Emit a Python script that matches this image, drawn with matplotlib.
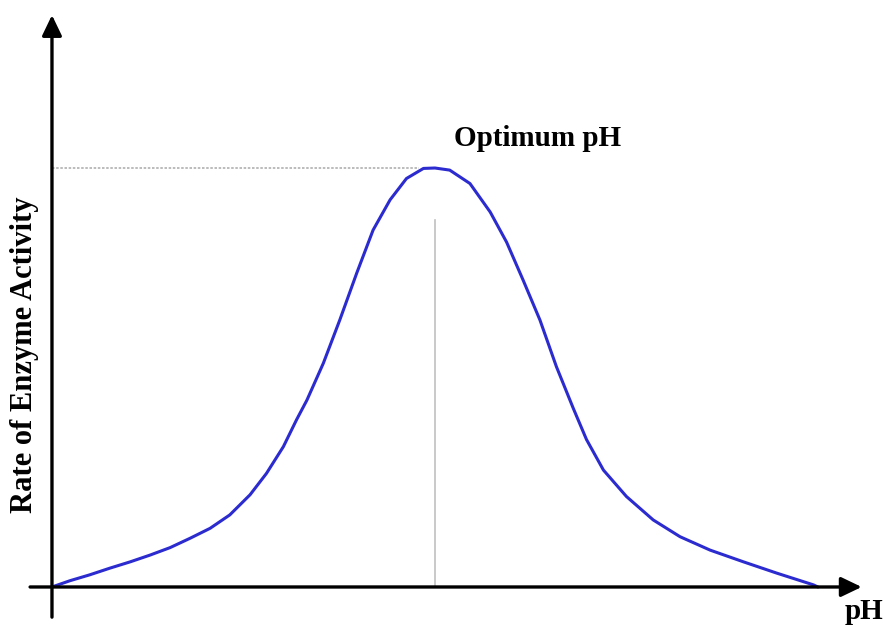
import matplotlib.pyplot as plt

# pH values and rate of enzyme activity (% of maximum)
ph = [0, 0.33, 0.69, 1.06, 1.43, 1.79, 2.16, 2.52, 2.89, 3.25, 3.62, 3.92, 4.23,
      4.47, 4.66, 4.96, 5.26, 5.57, 5.87, 6.18, 6.48, 6.79, 7.0, 7.27, 7.64,
      8.01, 8.31, 8.61, 8.92, 9.22, 9.53, 9.77, 10.08, 10.50, 10.99, 11.48,
      12.03, 12.64, 13.25, 13.92, 14.0]
rate = [0, 1.5, 2.9, 4.5, 6.0, 7.6, 9.4, 11.6, 14.0, 17.2, 22.0, 27.1, 33.5,
        39.9, 44.6, 53.4, 63.7, 74.9, 85.2, 92.4, 97.5, 99.9, 100, 99.5, 96.3,
        89.5, 82.3, 73.3, 63.7, 52.6, 42.6, 35.2, 27.9, 21.6, 16.0, 12.0,
        8.8, 6.0, 3.3, 0.5, 0]

optimum_ph = 7.0
optimum_rate = 100

fig = plt.figure(figsize=(8.83, 6.28), dpi=100)
ax = fig.add_axes([0, 0, 1, 1])
ax.set_xlim(-0.95, 15.19)
ax.set_ylim(-9.79, 140.1)
ax.axis("off")

# guide lines to the optimum
ax.plot([0, 6.7], [optimum_rate, optimum_rate], color="#b0b0b0", lw=1.2, ls=(0, (1.5, 1)))
ax.plot([optimum_ph, optimum_ph], [0, 87.6], color="#c0c0c0", lw=1.2)

# axes with arrows
arrow = dict(arrowstyle="-|>,head_length=1.25,head_width=0.6", color="black", lw=2.4,
             shrinkA=0, shrinkB=0)
ax.annotate("", xy=(14.80, 0), xytext=(-0.40, 0), arrowprops=arrow)
ax.annotate("", xy=(0, 136.5), xytext=(0, -7.2), arrowprops=arrow)

ax.plot(ph, rate, color="#2b2bd0", lw=2.2, solid_capstyle="round", solid_joinstyle="round")

font = dict(family="Liberation Serif", weight="bold", fontsize=21)
ax.text(8.88, 107.1, "Optimum pH", ha="center", va="center", **font)
ax.text(14.84, -5.8, "pH", ha="center", va="center", **font)
ax.text(-0.50, 55.4, "Rate of Enzyme Activity", rotation=90, ha="center", va="center",
        family="Liberation Serif", weight="bold", fontsize=22)

plt.savefig("out.png")
